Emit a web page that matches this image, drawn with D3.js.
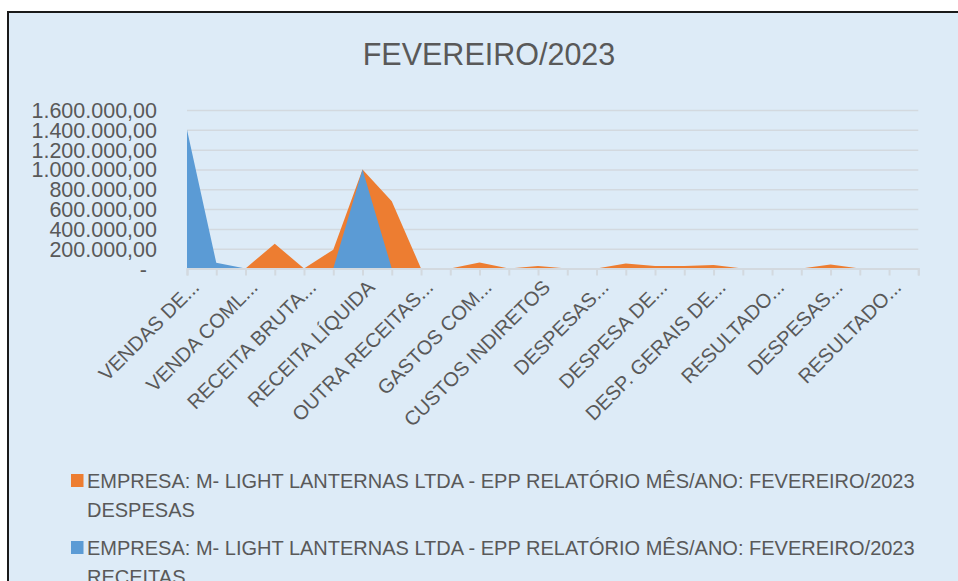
<!DOCTYPE html>
<html>
<head>
<meta charset="utf-8">
<script src="https://cdn.jsdelivr.net/npm/d3@7"></script>
<style>
  body { margin: 0; background: #fff; }
  svg { display: block; }
  text { font-family: "Liberation Sans", Arial, sans-serif; fill: #595959; }
</style>
</head>
<body>
<svg id="chart" width="958" height="581"></svg>
<script>
// Excel shows only every other category label (the rest are hidden)
const categories = [
  "VENDAS DE...", "", "VENDA COML...", "", "RECEITA BRUTA...", "",
  "RECEITA LÍQUIDA", "", "OUTRA RECEITAS...", "", "GASTOS COM...", "",
  "CUSTOS INDIRETOS", "", "DESPESAS...", "", "DESPESA DE...", "",
  "DESP. GERAIS DE...", "", "RESULTADO...", "", "DESPESAS...", "",
  "RESULTADO...", ""
];
const despesas = [
  0, 0, 0, 250000, 0, 190000, 1000000, 680000, 0, 0, 60000, 0, 25000,
  0, 0, 50000, 25000, 25000, 35000, 0, 0, 0, 40000, 0, 0, 0
];
const receitas = [
  1400000, 58000, 0, 0, 0, 0, 1000000, 0, 0, 0, 0, 0, 0,
  0, 0, 0, 0, 0, 0, 0, 0, 0, 0, 0, 0, 0
];
const yTicks = [0, 200000, 400000, 600000, 800000, 1000000, 1200000, 1400000, 1600000];
const title = "FEVEREIRO/2023";
const seriesNames = [
  ["EMPRESA: M- LIGHT LANTERNAS LTDA - EPP RELATÓRIO MÊS/ANO: FEVEREIRO/2023", "DESPESAS"],
  ["EMPRESA: M- LIGHT LANTERNAS LTDA - EPP RELATÓRIO MÊS/ANO: FEVEREIRO/2023", "RECEITAS"]
];
const colors = ["#ED7D31", "#5B9BD5"];

const svg = d3.select("#chart");

// chart area background + frame (right/bottom edges run off the page)
svg.append("rect")
  .attr("x", 8).attr("y", 12)
  .attr("width", 1000).attr("height", 700)
  .attr("fill", "#DDEBF7")
  .attr("stroke", "#1a1a1a")
  .attr("stroke-width", 2);

svg.append("text")
  .attr("x", 489).attr("y", 65)
  .attr("text-anchor", "middle")
  .style("font-size", "30.5px")
  .text(title);

const x = d3.scalePoint().domain(d3.range(categories.length)).range([187, 918.3]);
const y = d3.scaleLinear().domain([0, 1600000]).range([268.5, 110]);

const ptBR = d3.formatLocale({decimal: ",", thousands: ".", grouping: [3], currency: ["R$", ""]});
const fmt = ptBR.format(",.2f");

// gridlines
const grid = svg.append("g")
  .attr("transform", "translate(187,0)")
  .call(d3.axisLeft(y).tickValues(yTicks).tickSize(-731.3).tickFormat(""));
grid.select(".domain").remove();
grid.selectAll(".tick line").attr("stroke", "#D3D9DF").attr("stroke-width", 1.5);

// y labels
const yAxis = svg.append("g")
  .attr("transform", "translate(187,0)")
  .call(d3.axisLeft(y).tickValues(yTicks).tickSize(0).tickPadding(30)
    .tickFormat(function(d) { return d === 0 ? "-" : fmt(d); }));
yAxis.select(".domain").remove();
yAxis.selectAll(".tick text")
  .style("font-size", "21.5px")
  .attr("fill", "#595959")
  .attr("dy", "0.35em")
  .attr("dx", function(d) { return d === 0 ? -10 : 0; });

// areas: despesas first, receitas drawn on top
const area = d3.area()
  .x(function(d, i) { return x(i); })
  .y0(y(0))
  .y1(function(d) { return y(d); });

[despesas, receitas].forEach(function(series, k) {
  svg.append("path")
    .datum(series)
    .attr("fill", colors[k])
    .attr("d", area);
});

// x axis
const xAxis = svg.append("g")
  .attr("transform", "translate(0," + y(0) + ")")
  .call(d3.axisBottom(x).tickSize(7).tickFormat(function(i) { return categories[i]; }));
xAxis.select(".domain").attr("stroke", "#D3D9DF").attr("stroke-width", 2);
xAxis.selectAll(".tick line").attr("stroke", "#D3D9DF").attr("stroke-width", 2);
xAxis.selectAll(".tick text")
  .style("font-size", "20px")
  .attr("fill", "#595959")
  .attr("y", null).attr("dy", null)
  .attr("text-anchor", "end")
  .attr("transform", "translate(13,20) rotate(-45)");

// legend
const legend = svg.append("g");
seriesNames.forEach(function(lines, k) {
  const top = 474 + k * 67;
  legend.append("rect")
    .attr("x", 71).attr("y", top)
    .attr("width", 12.5).attr("height", 13)
    .attr("fill", colors[k]);
  lines.forEach(function(line, j) {
    legend.append("text")
      .attr("x", 87).attr("y", top + 13.5 + j * 29.5)
      .style("font-size", "20px")
      .text(line);
  });
});
</script>
</body>
</html>
